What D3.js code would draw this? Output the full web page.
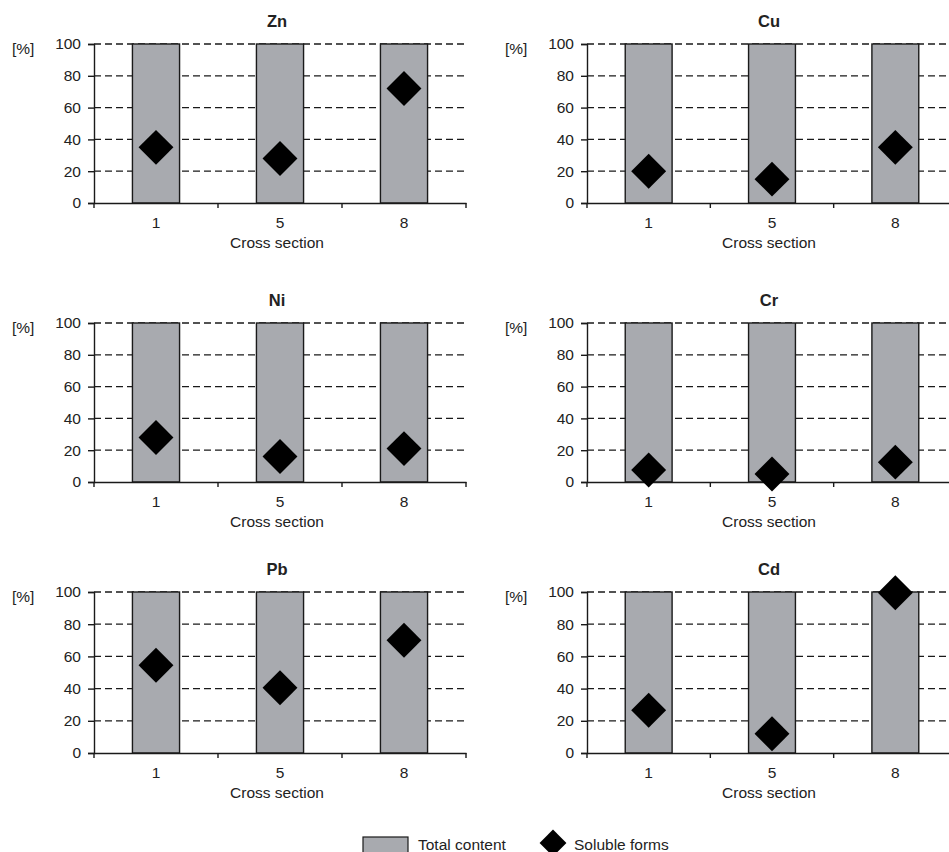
<!DOCTYPE html>
<html>
<head>
<meta charset="utf-8">
<script src="https://cdn.jsdelivr.net/npm/d3@7"></script>
<style>
  html, body { margin: 0; padding: 0; background: #fff; }
  svg { display: block; font-family: "Liberation Sans", Arial, sans-serif; }
</style>
</head>
<body>
<svg id="chart" width="949" height="852"></svg>
<script>
// ---- data ----
const metals = ["Zn", "Cu", "Ni", "Cr", "Pb", "Cd"];
const crossSections = ["1", "5", "8"];
const totalContent = [100, 100, 100];
const solubleZn = [35, 28, 72];
const solubleCu = [20, 15, 35];
const solubleNi = [28, 16, 21];
const solubleCr = [7.5, 5, 12.5];
const solublePb = [54.5, 40.5, 70];
const solubleCd = [26.5, 12, 99.5];
const yTicks = [0, 20, 40, 60, 80, 100];
const legendLabels = ["Total content", "Soluble forms"];

const solubleByMetal = { Zn: solubleZn, Cu: solubleCu, Ni: solubleNi, Cr: solubleCr, Pb: solublePb, Cd: solubleCd };

// ---- layout ----
const colX = [{ x0: 94, x1: 466 }, { x0: 587, x1: 957 }];
const rowY = [{ top: 44, bottom: 203 }, { top: 323, bottom: 482 }, { top: 592, bottom: 753 }];
const barFill = "#a8aaaf";
const ink = "#1a1a1a";
const textCol = "#222";
const fs = 15.5;

const svg = d3.select("#chart");

metals.forEach((m, i) => {
  const col = colX[i % 2];
  const row = rowY[Math.floor(i / 2)];
  const x = d3.scaleBand().domain(crossSections).range([col.x0, col.x1]).paddingInner(0).paddingOuter(0);
  const y = d3.scaleLinear().domain([0, 100]).range([row.bottom, row.top]);
  const g = svg.append("g");
  const vals = solubleByMetal[m];

  // dashed gridlines
  g.append("g").selectAll("line").data(yTicks.filter(t => t > 0)).join("line")
    .attr("x1", col.x0).attr("x2", col.x1)
    .attr("y1", d => y(d)).attr("y2", d => y(d))
    .attr("stroke", ink).attr("stroke-width", 1.3).attr("stroke-dasharray", "7,4");

  // bars
  const bw = x.bandwidth() * 0.38;
  g.append("g").selectAll("rect").data(crossSections).join("rect")
    .attr("x", d => x(d) + (x.bandwidth() - bw) / 2)
    .attr("y", (d, j) => y(totalContent[j]))
    .attr("width", bw)
    .attr("height", (d, j) => y(0) - y(totalContent[j]))
    .attr("fill", barFill).attr("stroke", ink).attr("stroke-width", 1.4);

  // y axis
  const ya = g.append("g").attr("transform", `translate(${col.x0},0)`)
    .call(d3.axisLeft(y).tickValues(yTicks).tickSize(6).tickPadding(7));
  ya.select(".domain").attr("stroke", ink).attr("stroke-width", 1.4);
  ya.selectAll(".tick line").attr("stroke", ink).attr("stroke-width", 1.4);
  ya.selectAll(".tick text").attr("fill", textCol).style("font-size", fs + "px").style("font-family", "'Liberation Sans', Arial, sans-serif");

  // x axis
  const xa = g.append("g").attr("transform", `translate(0,${row.bottom})`)
    .call(d3.axisBottom(x).tickSize(0).tickPadding(14));
  xa.select(".domain").attr("stroke", ink).attr("stroke-width", 1.4);
  xa.selectAll(".tick text").attr("fill", textCol).style("font-size", fs + "px").style("font-family", "'Liberation Sans', Arial, sans-serif");
  // boundary ticks
  const bounds = crossSections.map(c => x(c)).concat([col.x1]);
  g.append("g").selectAll("line").data(bounds).join("line")
    .attr("x1", d => d).attr("x2", d => d)
    .attr("y1", row.bottom).attr("y2", row.bottom + 5)
    .attr("stroke", ink).attr("stroke-width", 1.4);

  // diamonds
  g.append("g").selectAll("path").data(vals).join("path")
    .attr("d", d3.symbol(d3.symbolSquare, 610))
    .attr("transform", (d, j) => `translate(${x(crossSections[j]) + x.bandwidth() / 2},${y(d)}) rotate(45)`)
    .attr("fill", "#000");

  // titles
  g.append("text").attr("x", (col.x0 + col.x1) / 2 - 3).attr("y", row.top - 17)
    .attr("text-anchor", "middle").attr("font-weight", "bold").attr("font-size", 16.5)
    .attr("fill", textCol).text(m);
  g.append("text").attr("x", col.x0 - 82).attr("y", row.top + 10)
    .attr("font-size", fs).attr("fill", textCol).text("[%]");
  g.append("text").attr("x", (col.x0 + col.x1) / 2 - 3).attr("y", row.bottom + 45)
    .attr("text-anchor", "middle").attr("font-size", fs).attr("fill", textCol).text("Cross section");
});

// legend
const lg = svg.append("g");
lg.append("rect").attr("x", 363).attr("y", 837).attr("width", 45).attr("height", 18)
  .attr("fill", barFill).attr("stroke", ink).attr("stroke-width", 1.2);
lg.append("text").attr("x", 418).attr("y", 850).attr("font-size", fs).attr("fill", textCol).text(legendLabels[0]);
lg.append("path").attr("d", d3.symbol(d3.symbolSquare, 360))
  .attr("transform", "translate(553,843) rotate(45)").attr("fill", "#000");
lg.append("text").attr("x", 574).attr("y", 850).attr("font-size", fs).attr("fill", textCol).text(legendLabels[1]);
</script>
</body>
</html>
